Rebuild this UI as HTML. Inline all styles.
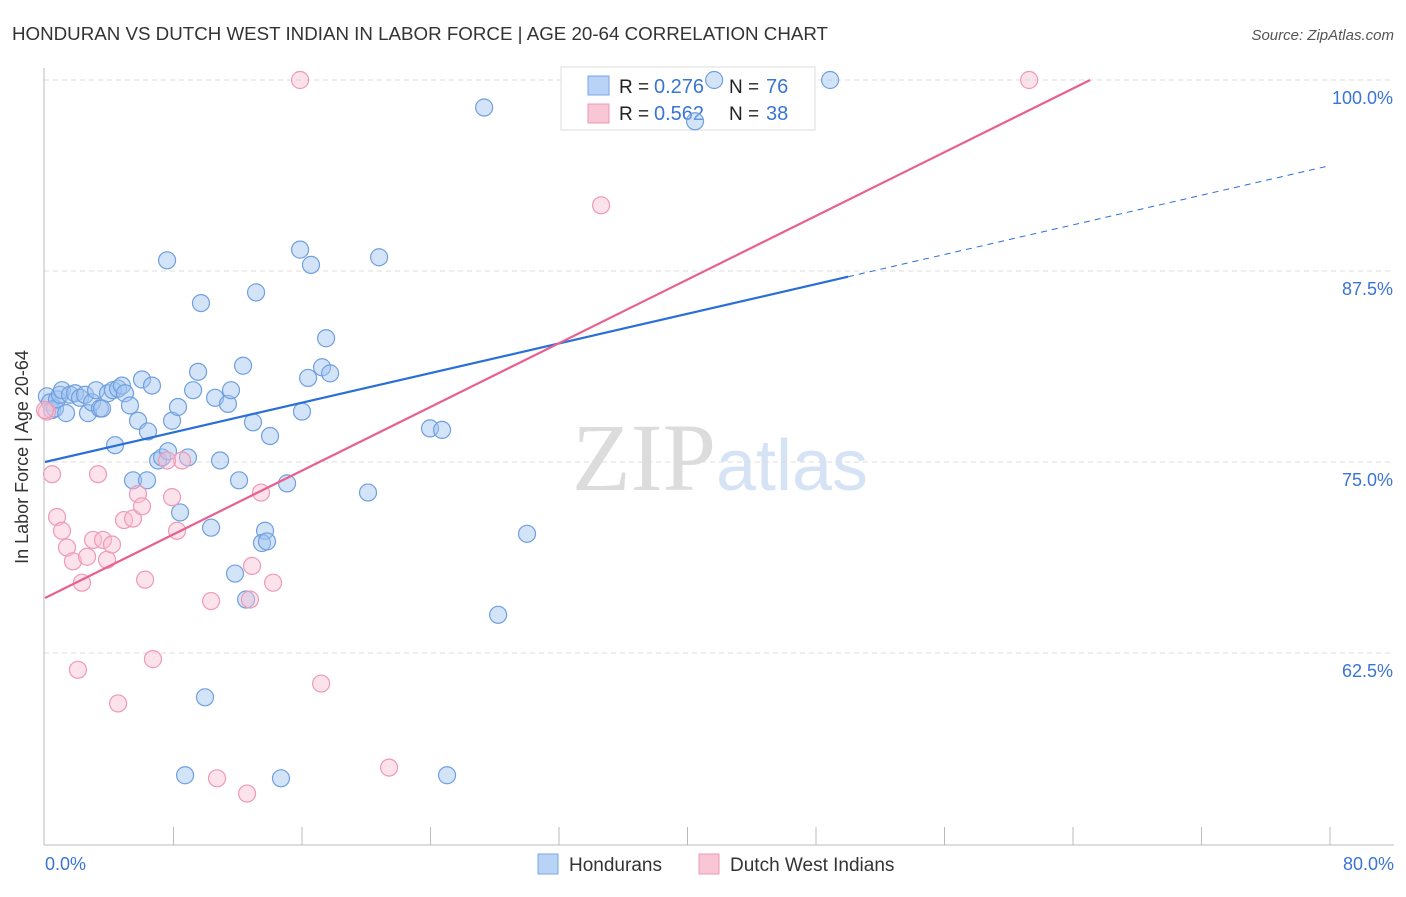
<!DOCTYPE html>
<html><head><meta charset="utf-8"><style>
body{margin:0;background:#fff;font-family:"Liberation Sans",sans-serif}
svg text{font-family:"Liberation Sans",sans-serif}
</style></head><body>
<svg id="chart" width="1406" height="892" xmlns="http://www.w3.org/2000/svg">
<text x="12" y="40" font-size="18" fill="#333" textLength="816" lengthAdjust="spacingAndGlyphs">HONDURAN VS DUTCH WEST INDIAN IN LABOR FORCE | AGE 20-64 CORRELATION CHART</text>
<text x="1394" y="40" font-size="15" fill="#555" text-anchor="end" font-style="italic">Source: ZipAtlas.com</text>
<text x="720" y="490" font-size="96" fill="#e4e4e4" text-anchor="middle" font-family="Liberation Serif"><tspan fill="#dcdcdc" font-family="Liberation Serif">ZIP</tspan><tspan fill="#d5e3f5" font-family="Liberation Sans" font-size="72">atlas</tspan></text>
<g id="grid"></g>
<line x1="44" y1="68" x2="44" y2="845" stroke="#bbb"/>
<line x1="44" y1="845" x2="1394" y2="845" stroke="#bbb"/>
<g id="ticks"></g>
<text x="28" y="457" font-size="18" fill="#333" text-anchor="middle" transform="rotate(-90 28 457)">In Labor Force | Age 20-64</text>
<text x="45" y="870" font-size="18" fill="#3a74d4">0.0%</text>
<text x="1394" y="870" font-size="18" fill="#3a74d4" text-anchor="end">80.0%</text>
<g>
<rect x="561" y="67" width="254" height="63" fill="#fff" stroke="#ddd"/>
<rect x="588" y="76" width="21" height="19" fill="#b8d3f5" stroke="#7aa6e4"/>
<rect x="588" y="104" width="21" height="19" fill="#f9c6d6" stroke="#ec98b3"/>
<text x="619" y="93" font-size="19" fill="#222">R =</text>
<text x="654" y="93" font-size="20" fill="#3a74d4">0.276</text>
<text x="729" y="93" font-size="19" fill="#222">N =</text>
<text x="766" y="93" font-size="20" fill="#3a74d4">76</text>
<text x="619" y="120" font-size="19" fill="#222">R =</text>
<text x="654" y="120" font-size="20" fill="#3a74d4">0.562</text>
<text x="729" y="120" font-size="19" fill="#222">N =</text>
<text x="766" y="120" font-size="20" fill="#3a74d4">38</text>
</g>
<g id="pts"></g>
<g id="lines"></g>
<g>
<rect x="538" y="854" width="20" height="20" fill="#b8d3f5" stroke="#7aa6e4"/>
<text x="569" y="871" font-size="19" fill="#333">Hondurans</text>
<rect x="699" y="854" width="20" height="20" fill="#f9c6d6" stroke="#ec98b3"/>
<text x="730" y="871" font-size="19" fill="#333">Dutch West Indians</text>
</g>
</svg>
<script>
const yTicks=[100,87.5,75,62.5];
const yTickLabels=["100.0%","87.5%","75.0%","62.5%"];
const xTicks=[8,16,24,32,40,48,56,64,72,80];
const blueX=[0.12,0.31,0.44,0.62,0.75,0.93,1.06,1.31,1.56,1.87,2.18,2.49,2.68,2.93,3.18,3.42,3.55,3.92,4.23,4.55,4.79,4.98,5.29,5.79,6.04,6.41,6.66,4.36,5.48,6.35,7.04,7.29,7.66,7.91,8.28,8.41,8.9,9.22,9.53,9.71,7.6,10.34,10.59,10.9,11.39,11.58,12.08,12.33,12.95,13.14,14.01,13.7,13.51,13.82,11.83,12.52,9.96,8.72,14.69,15.07,15.88,16.56,16.0,16.38,17.25,17.5,17.75,20.11,20.8,23.97,24.72,27.34,28.21,30.01,25.03,40.47,41.66,48.88];
const blueY=[79.3,78.9,78.4,78.5,79.1,79.4,79.7,78.2,79.4,79.5,79.2,79.4,78.2,78.9,79.7,78.5,78.5,79.5,79.7,79.8,80.0,79.5,78.7,77.7,80.4,77.0,80.0,76.1,73.8,73.8,75.1,75.3,75.7,77.7,78.6,71.7,75.3,79.7,80.9,85.4,88.2,70.7,79.2,75.1,78.8,79.7,73.8,81.3,77.6,86.1,76.7,70.5,69.7,69.8,67.7,66.0,59.6,54.5,54.3,73.6,88.9,87.9,78.3,80.5,81.2,83.1,80.8,73.0,88.4,77.2,77.1,98.2,65.0,70.3,54.5,97.3,100,100];
const pinkX=[0.12,0.44,0.75,1.06,1.37,1.74,2.05,2.3,2.62,2.99,3.3,3.61,3.86,4.17,4.55,4.92,5.48,5.79,6.04,6.23,6.72,7.91,8.22,8.53,7.6,10.34,10.71,12.58,12.89,12.76,13.45,14.2,17.19,21.42,15.88,34.62,61.27,0.0];
const pinkY=[78.3,74.2,71.4,70.5,69.4,68.5,61.4,67.1,68.8,69.9,74.2,69.9,68.6,69.6,59.2,71.2,71.3,72.9,72.1,67.3,62.1,72.7,70.5,75.1,75.1,65.9,54.3,53.3,68.2,66.0,73.0,67.1,60.5,55.0,100,91.8,100,78.4];
const blueTrend=[75.0,0.2425]; // intercept, slope
const pinkTrend=[66.1,0.521];
const NS="http://www.w3.org/2000/svg";
const sx=v=>45+v*16.0625, sy=v=>80+(100-v)*15.28;
function mk(t,a,p){const e=document.createElementNS(NS,t);for(const k in a)e.setAttribute(k,a[k]);document.getElementById(p).appendChild(e);return e;}
yTicks.forEach((t,i)=>{
 const l=mk('line',{x1:44,x2:1394,y1:sy(t),y2:sy(t),stroke:'#ddd','stroke-dasharray':'5,4'},'grid');
 
 
 const tx=mk('text',{x:1393,y:sy(t)+24,'font-size':18,fill:'#3a74d4','text-anchor':'end'},'grid');
 tx.textContent=yTickLabels[i];
 
 
});
xTicks.forEach(t=>{
 const l=mk('line',{x1:sx(t),x2:sx(t),y1:827,y2:845,stroke:'#bbb'},'ticks');
 
 
});
blueX.forEach((x,i)=>{
 const c=mk('circle',{cx:sx(x),cy:sy(blueY[i]),r:8.5,fill:'rgba(160,196,240,0.45)',stroke:'#6f9fe0','stroke-width':1.2},'pts');
 
 
});
pinkX.forEach((x,i)=>{
 const c=mk('circle',{cx:sx(x),cy:sy(pinkY[i]),r:8.5,fill:'rgba(248,190,210,0.45)',stroke:'#ee9ab5','stroke-width':1.2},'pts');
 
 
});
const bMax=50, bEnd=80;
let l1=mk('line',{x1:sx(0),y1:sy(blueTrend[0]),x2:sx(bMax),y2:sy(blueTrend[0]+blueTrend[1]*bMax),stroke:'#2a6fd8','stroke-width':2.2},'lines');


let l2=mk('line',{x1:sx(bMax),y1:sy(blueTrend[0]+blueTrend[1]*bMax),x2:sx(bEnd),y2:sy(blueTrend[0]+blueTrend[1]*bEnd),stroke:'#2a6fd8','stroke-width':1,'stroke-dasharray':'6,5'},'lines');


const pEnd=(100-pinkTrend[0])/pinkTrend[1];
let l3=mk('line',{x1:sx(0),y1:sy(pinkTrend[0]),x2:sx(pEnd),y2:sy(100),stroke:'#e8608f','stroke-width':2.2},'lines');


</script>
</body></html>
